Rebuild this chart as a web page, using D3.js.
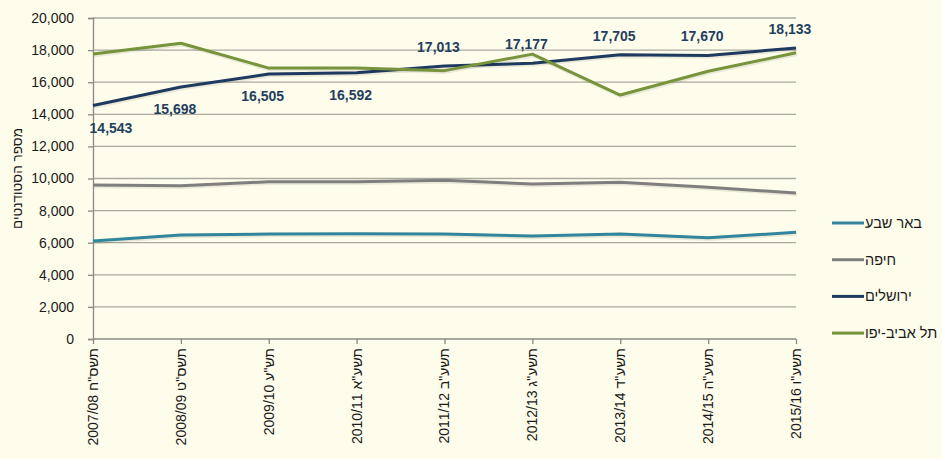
<!DOCTYPE html>
<html>
<head>
<meta charset="utf-8">
<script src="https://cdn.jsdelivr.net/npm/d3@7/dist/d3.min.js"></script>
<style>
  html, body { margin: 0; padding: 0; background: #FEFCEA; }
  svg { display: block; }
</style>
</head>
<body>
<svg id="chart" width="942" height="459"></svg>
<script>
const categories = ["2007/08 תשס\"ח", "2008/09 תשס\"ט", "2009/10 תש\"ע", "2010/11 תשע\"א", "2011/12 תשע\"ב", "2012/13 תשע\"ג", "2013/14 תשע\"ד", "2014/15 תשע\"ה", "2015/16 תשע\"ו"];
const beerSheva = [6100, 6480, 6540, 6560, 6540, 6420, 6540, 6310, 6650];
const haifa = [9600, 9550, 9800, 9800, 9890, 9660, 9760, 9450, 9100];
const jerusalem = [14543, 15698, 16505, 16592, 17013, 17177, 17705, 17670, 18133];
const telAviv = [17750, 18430, 16880, 16880, 16720, 17750, 15200, 16680, 17830];
const yTicks = [0, 2000, 4000, 6000, 8000, 10000, 12000, 14000, 16000, 18000, 20000];
const seriesNames = ["באר שבע", "חיפה", "ירושלים", "תל אביב-יפו"];
const yTitle = "מספר הסטודנטים";
const jerusalemLabelSide = ["below", "below", "below", "below", "above", "above", "above", "above", "above"];

(function () {
const colors = ["#31859C", "#7F7F7F", "#1F3A5F", "#77933C"];
const seriesData = [beerSheva, haifa, jerusalem, telAviv];

const svg = d3.select("#chart");
const mLeft = 93, mRight = 796, mTop = 18, mBottom = 339;

const x = d3.scalePoint().domain(categories).range([mLeft, mRight]);
const y = d3.scaleLinear().domain([0, 20000]).range([mBottom, mTop]);

// gridlines
svg.append("g").selectAll("line").data(yTicks.filter(d => d > 0)).join("line")
  .attr("x1", mLeft).attr("x2", mRight)
  .attr("y1", d => y(d)).attr("y2", d => y(d))
  .attr("stroke", "#ABA9A0").attr("stroke-width", 1.3);

// y axis
const yAxis = svg.append("g").attr("transform", `translate(${mLeft},0)`)
  .call(d3.axisLeft(y).tickValues(yTicks).tickSize(5).tickPadding(14)
    .tickFormat(d3.format(",")));
yAxis.select(".domain").attr("stroke", "#8C8A84").attr("stroke-width", 1.3);
yAxis.selectAll(".tick line").attr("stroke", "#8C8A84").attr("stroke-width", 1.3);
yAxis.selectAll("text").attr("font-family", "Liberation Sans, Arial, sans-serif")
  .attr("font-size", 14).attr("fill", "#1a1a1a");

// x axis
const xAxis = svg.append("g").attr("transform", `translate(0,${mBottom})`)
  .call(d3.axisBottom(x).tickSize(5).tickFormat(""));
xAxis.select(".domain").attr("stroke", "#8C8A84").attr("stroke-width", 1.3)
  .attr("d", `M${mLeft},0H${mRight}`);
xAxis.selectAll(".tick line").attr("stroke", "#8C8A84").attr("stroke-width", 1.3);

svg.append("g").selectAll("text").data(categories).join("text")
  .attr("transform", d => `translate(${x(d)},${mBottom + 9}) rotate(-90)`)
  .attr("text-anchor", "end")
  .attr("dy", "0.35em")
  .attr("font-family", "Liberation Sans, Arial, sans-serif")
  .attr("font-size", 14)
  .attr("fill", "#1a1a1a")
  .text(d => d);

// y title
svg.append("text")
  .attr("transform", `translate(17,${(mTop + mBottom) / 2}) rotate(-90)`)
  .attr("text-anchor", "middle")
  .attr("dy", "0.35em")
  .attr("font-family", "Liberation Sans, Arial, sans-serif")
  .attr("font-size", 13.5)
  .attr("fill", "#1a1a1a")
  .text(yTitle);

// lines
const line = d3.line().x((d, i) => x(categories[i])).y(d => y(d));
const order = [1, 0, 2, 3];
order.forEach(k => {
  svg.append("path")
    .attr("d", line(seriesData[k]))
    .attr("fill", "none")
    .attr("stroke", "#000").attr("stroke-opacity", 0.08)
    .attr("stroke-width", 3.5)
    .attr("transform", "translate(1,1.5)")
    .attr("stroke-linejoin", "round");
  svg.append("path")
    .attr("d", line(seriesData[k]))
    .attr("fill", "none")
    .attr("stroke", colors[k])
    .attr("stroke-width", 3)
    .attr("stroke-linejoin", "round");
});

// jerusalem labels
svg.append("g").selectAll("text").data(jerusalem).join("text")
  .attr("x", (d, i) => x(categories[i]) - 6 + (i === 0 ? 24 : 0))
  .attr("y", (d, i) => y(d) + (jerusalemLabelSide[i] === "below" ? 27 : -14))
  .attr("text-anchor", "middle")
  .attr("font-family", "Liberation Sans, Arial, sans-serif")
  .attr("font-weight", "bold")
  .attr("font-size", 14)
  .attr("fill", "#243F60")
  .text(d => d3.format(",")(d));

// legend
const lg = svg.append("g");
seriesNames.forEach((name, i) => {
  const ly = 223 + i * 36.7;
  lg.append("line").attr("x1", 832).attr("x2", 864).attr("y1", ly).attr("y2", ly)
    .attr("stroke", colors[i]).attr("stroke-width", 3);
  lg.append("text").attr("x", 865).attr("y", ly).attr("dy", "0.35em")
    .attr("font-family", "Liberation Sans, Arial, sans-serif")
    .attr("font-size", 14.5).attr("fill", "#1a1a1a")
    .attr("direction", "ltr")
    .text(name);
});
})();
</script>
</body>
</html>
